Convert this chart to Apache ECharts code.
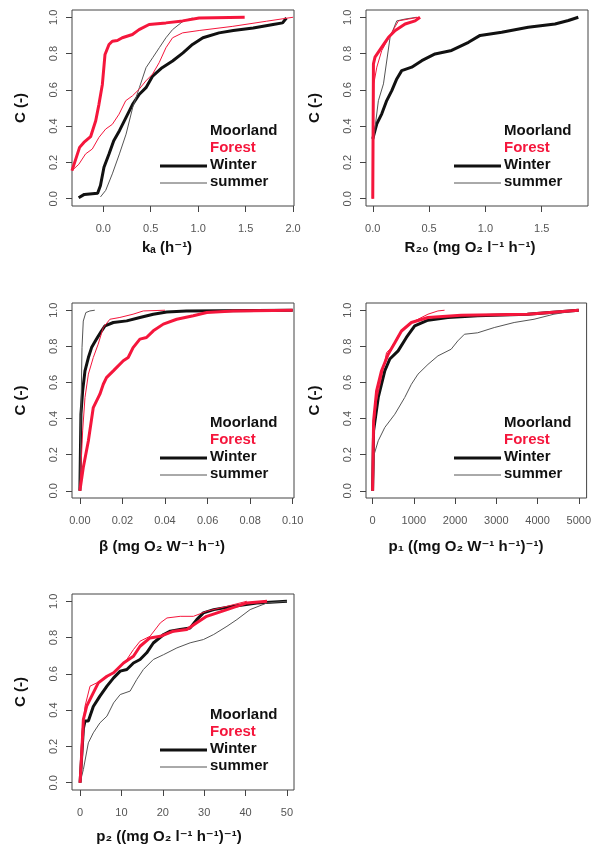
<!DOCTYPE html>
<html>
<head>
<meta charset="utf-8">
<script src="https://cdn.jsdelivr.net/npm/echarts@6/dist/echarts.min.js"></script>
<style>
  html, body { margin: 0; padding: 0; background: #fff; }
  #chart { width: 594px; height: 849px; }
</style>
</head>
<body>
<div id="chart"></div>
<script>
'use strict';

// ---- data: [x, C] pairs of each cumulative curve ----
var yTicks = [0, 0.2, 0.4, 0.6, 0.8, 1.0];

var kaTicks = [0, 0.5, 1.0, 1.5, 2.0];
var kaMoorWinter = [[-0.26, 0.005], [-0.2, 0.024], [-0.06, 0.03], [-0.03, 0.073], [0.007, 0.174], [0.06, 0.247], [0.11, 0.32], [0.17, 0.375], [0.24, 0.448], [0.31, 0.521], [0.38, 0.576], [0.45, 0.612], [0.52, 0.676], [0.62, 0.722], [0.73, 0.759], [0.84, 0.804], [0.94, 0.85], [1.05, 0.887], [1.22, 0.914], [1.37, 0.927], [1.58, 0.941], [1.79, 0.96], [1.89, 0.969], [1.93, 0.996]];
var kaMoorSummer = [[-0.03, 0.01], [0.025, 0.046], [0.095, 0.137], [0.17, 0.247], [0.24, 0.356], [0.31, 0.503], [0.38, 0.612], [0.45, 0.722], [0.52, 0.777], [0.59, 0.832], [0.66, 0.887], [0.73, 0.932], [0.84, 0.978], [0.94, 0.996]];
var kaForWinter = [[-0.33, 0.155], [-0.25, 0.283], [-0.205, 0.31], [-0.134, 0.342], [-0.08, 0.43], [-0.046, 0.52], [-0.01, 0.63], [0.018, 0.795], [0.06, 0.85], [0.095, 0.868], [0.148, 0.872], [0.2, 0.887], [0.307, 0.905], [0.377, 0.932], [0.483, 0.96], [0.66, 0.969], [0.836, 0.98], [1.01, 0.996], [1.49, 1.0]];
var kaForSummer = [[-0.33, 0.155], [-0.258, 0.19], [-0.187, 0.247], [-0.116, 0.274], [-0.046, 0.338], [0.025, 0.384], [0.095, 0.41], [0.166, 0.466], [0.236, 0.54], [0.307, 0.567], [0.377, 0.603], [0.448, 0.649], [0.518, 0.686], [0.589, 0.75], [0.66, 0.832], [0.73, 0.887], [0.836, 0.914], [1.01, 0.927], [1.365, 0.95], [1.718, 0.978], [2.0, 1.0]];

var r20Ticks = [0, 0.5, 1.0, 1.5];
var r20MoorWinter = [[0, 0.33], [0.036, 0.413], [0.08, 0.468], [0.124, 0.541], [0.169, 0.596], [0.213, 0.66], [0.257, 0.706], [0.346, 0.725], [0.435, 0.761], [0.553, 0.798], [0.7, 0.817], [0.85, 0.862], [0.953, 0.9], [1.145, 0.917], [1.38, 0.945], [1.618, 0.963], [1.737, 0.982], [1.825, 1.0]];
var r20MoorSummer = [[0.006, 0.32], [0.05, 0.54], [0.095, 0.633], [0.154, 0.89], [0.213, 0.98], [0.287, 0.99], [0.39, 1.0]];
var r20ForWinter = [[0, 0], [0.006, 0.743], [0.02, 0.78], [0.08, 0.835], [0.14, 0.89], [0.2, 0.927], [0.287, 0.963], [0.376, 0.98], [0.42, 1.0]];
var r20ForSummer = [[0, 0], [0.009, 0.633], [0.036, 0.725], [0.08, 0.817], [0.154, 0.9], [0.228, 0.98], [0.317, 0.99], [0.405, 1.0]];

var betaTicks = [0, 0.02, 0.04, 0.06, 0.08, 0.10];
var betaMoorWinter = [[0, 0], [0.0005, 0.424], [0.0013, 0.553], [0.0024, 0.664], [0.004, 0.738], [0.0055, 0.793], [0.0078, 0.84], [0.0102, 0.886], [0.0118, 0.913], [0.0157, 0.932], [0.022, 0.941], [0.0282, 0.96], [0.0345, 0.978], [0.0408, 0.99], [0.05, 0.996], [0.1, 1.0]];
var betaMoorSummer = [[0, 0], [0.0005, 0.424], [0.001, 0.793], [0.0016, 0.94], [0.0028, 0.987], [0.0047, 0.996], [0.007, 1.0]];
var betaForWinter = [[0, 0], [0.0016, 0.129], [0.004, 0.277], [0.0063, 0.461], [0.0094, 0.535], [0.011, 0.59], [0.0125, 0.627], [0.0157, 0.664], [0.0204, 0.72], [0.0227, 0.738], [0.025, 0.793], [0.0282, 0.84], [0.0313, 0.849], [0.0345, 0.886], [0.0392, 0.923], [0.0455, 0.95], [0.0533, 0.969], [0.0596, 0.987], [0.072, 0.996], [0.1, 1.0]];
var betaForSummer = [[0, 0], [0.0013, 0.332], [0.0024, 0.516], [0.004, 0.646], [0.0063, 0.738], [0.0086, 0.812], [0.011, 0.904], [0.0141, 0.95], [0.0188, 0.96], [0.025, 0.978], [0.0298, 0.996], [0.04, 1.0]];

var p1Ticks = [0, 1000, 2000, 3000, 4000, 5000];
var p1MoorWinter = [[0, 0], [24, 0.332], [137, 0.517], [297, 0.665], [418, 0.73], [619, 0.775], [820, 0.849], [1021, 0.913], [1343, 0.945], [1825, 0.96], [2549, 0.969], [3754, 0.978], [5000, 1.0]];
var p1MoorSummer = [[15, 0], [40, 0.203], [137, 0.277], [297, 0.351], [539, 0.424], [780, 0.517], [941, 0.59], [1101, 0.646], [1343, 0.7], [1584, 0.747], [1905, 0.784], [2066, 0.83], [2227, 0.867], [2549, 0.875], [2950, 0.904], [3433, 0.932], [3915, 0.95], [4398, 0.978], [5000, 1.0]];
var p1ForWinter = [[0, 0], [24, 0.387], [97, 0.553], [217, 0.665], [378, 0.756], [539, 0.82], [700, 0.885], [941, 0.932], [1343, 0.96], [2147, 0.972], [3754, 0.978], [5000, 1.0]];
var p1ForSummer = [[0, 0], [24, 0.35], [97, 0.5], [217, 0.63], [338, 0.765], [458, 0.793], [619, 0.858], [860, 0.922], [1101, 0.95], [1343, 0.978], [1584, 0.996], [1745, 1.0]];

var p2Ticks = [0, 10, 20, 30, 40, 50];
var p2MoorWinter = [[0, 0], [0.8, 0.3], [1.2, 0.34], [2, 0.34], [3.2, 0.42], [4.8, 0.477], [6.5, 0.532], [8.1, 0.578], [9.7, 0.615], [11.3, 0.624], [12.9, 0.66], [14.5, 0.679], [16.1, 0.716], [17.7, 0.77], [20.2, 0.817], [21.8, 0.835], [24.2, 0.844], [26.6, 0.853], [28.2, 0.899], [29.8, 0.936], [32.3, 0.954], [37.1, 0.972], [42.7, 0.991], [50, 1.0]];
var p2MoorSummer = [[0, 0], [0.8, 0.073], [2.0, 0.22], [3.2, 0.275], [4.8, 0.33], [6.5, 0.367], [8.1, 0.44], [9.7, 0.486], [12.1, 0.505], [13.7, 0.569], [15.3, 0.624], [17.7, 0.679], [20.2, 0.706], [23.4, 0.743], [26.6, 0.771], [29.8, 0.789], [32.3, 0.817], [35.5, 0.862], [37.9, 0.899], [41.1, 0.954], [45.2, 0.991], [50, 1.0]];
var p2ForWinter = [[0, 0], [0.4, 0.165], [0.8, 0.349], [1.6, 0.422], [2.8, 0.477], [4.4, 0.55], [6.5, 0.587], [8.1, 0.606], [10.5, 0.66], [12.9, 0.697], [14.5, 0.752], [16.9, 0.798], [19.4, 0.807], [22.6, 0.835], [25.8, 0.844], [28.2, 0.881], [30.6, 0.917], [35.5, 0.954], [40.3, 0.991], [45.2, 1.0]];
var p2ForSummer = [[0, 0], [0.4, 0.257], [1.2, 0.422], [2.4, 0.532], [4.0, 0.55], [5.6, 0.569], [8.1, 0.606], [9.7, 0.642], [11.3, 0.679], [12.9, 0.734], [14.5, 0.78], [16.9, 0.807], [19.4, 0.881], [21, 0.908], [24.2, 0.917], [27.4, 0.917], [30.6, 0.945], [35.5, 0.972], [40.3, 1.0]];

// ---- layout ----
var FONT = '"Liberation Sans", "DejaVu Sans", Arial, sans-serif';
var RED = '#f5163c';
var GW = 222;

var panels = [
    { left: 72, top: 10, h: 196, min: -0.33, max: 2.01, ticks: kaTicks, dec: 1,
      title: 'kₐ (h⁻¹)', tx: 167, ty: 248,
      curves: [kaMoorWinter, kaMoorSummer, kaForWinter, kaForSummer] },
    { left: 366, top: 10, h: 196, min: -0.06, max: 1.911, ticks: r20Ticks, dec: 1,
      title: 'R₂₀ (mg O₂ l⁻¹ h⁻¹)', tx: 470, ty: 248,
      curves: [r20MoorWinter, r20MoorSummer, r20ForWinter, r20ForSummer] },
    { left: 72, top: 303, h: 195, min: -0.0037, max: 0.1006, ticks: betaTicks, dec: 2,
      title: 'β (mg O₂ W⁻¹ h⁻¹)', tx: 162, ty: 547,
      curves: [betaMoorWinter, betaMoorSummer, betaForWinter, betaForSummer] },
    { left: 366, top: 303, h: 195, min: -160, max: 5190, ticks: p1Ticks, dec: 0,
      title: 'p₁ ((mg O₂ W⁻¹ h⁻¹)⁻¹)', tx: 466, ty: 547,
      curves: [p1MoorWinter, p1MoorSummer, p1ForWinter, p1ForSummer] },
    { left: 72, top: 594, h: 196, min: -1.95, max: 51.7, ticks: p2Ticks, dec: 0,
      title: 'p₂ ((mg O₂ l⁻¹ h⁻¹)⁻¹)', tx: 169, ty: 837,
      curves: [p2MoorWinter, p2MoorSummer, p2ForWinter, p2ForSummer] }
];

var curveStyles = [
    { color: '#111', width: 3 },
    { color: '#555', width: 1 },
    { color: RED, width: 3 },
    { color: RED, width: 1 }
];

var grids = [], xAxes = [], yAxes = [], series = [], graphics = [];

panels.forEach(function (p, i) {
    grids.push({
        left: p.left, top: p.top, width: GW, height: p.h,
        show: true, borderColor: '#444', borderWidth: 1,
        backgroundColor: 'transparent'
    });
    xAxes.push({
        gridIndex: i, type: 'value', min: p.min, max: p.max, position: 'bottom',
        splitLine: { show: false },
        axisLine: { show: false, onZero: false },
        axisTick: { show: true, inside: false, length: 6, lineStyle: { color: '#444' }, customValues: p.ticks },
        axisLabel: {
            customValues: p.ticks, color: '#555', fontSize: 11, margin: 17, fontFamily: FONT,
            formatter: (function (dec) { return function (v) { return v.toFixed(dec); }; })(p.dec)
        }
    });
    yAxes.push({
        gridIndex: i, type: 'value', min: -0.04, max: 1.04, position: 'left',
        splitLine: { show: false },
        axisLine: { show: false, onZero: false },
        axisTick: { show: true, inside: false, length: 6, lineStyle: { color: '#444' }, customValues: yTicks },
        axisLabel: {
            customValues: yTicks, color: '#555', fontSize: 11, margin: 13, rotate: 90, fontFamily: FONT,
            formatter: function (v) { return v.toFixed(1); }
        },
        name: 'C (-)', nameLocation: 'middle', nameGap: 44, nameRotate: 90,
        nameTextStyle: { color: '#111', fontSize: 15, fontWeight: 'bold', fontFamily: FONT }
    });
    p.curves.forEach(function (c, k) {
        series.push({
            type: 'line', xAxisIndex: i, yAxisIndex: i, data: c,
            showSymbol: false, symbol: 'none', silent: true, animation: false,
            lineStyle: { color: curveStyles[k].color, width: curveStyles[k].width }
        });
    });

    // x axis title
    graphics.push({
        type: 'text', x: p.tx, y: p.ty,
        style: { text: p.title, fill: '#111', font: 'bold 15px ' + FONT, align: 'center', verticalAlign: 'middle' }
    });

    // legend (bottom right, no box)
    var r = p.left + GW, b = p.top + p.h;
    var tx = r - 84;
    var rows = [
        { text: 'Moorland', fill: '#111', dy: -75 },
        { text: 'Forest', fill: RED, dy: -58 },
        { text: 'Winter', fill: '#111', dy: -41 },
        { text: 'summer', fill: '#111', dy: -24 }
    ];
    rows.forEach(function (row) {
        graphics.push({
            type: 'text', x: tx, y: b + row.dy,
            style: { text: row.text, fill: row.fill, font: 'bold 15px ' + FONT, align: 'left', verticalAlign: 'middle' }
        });
    });
    graphics.push({
        type: 'line', shape: { x1: r - 134, y1: b - 40, x2: r - 87, y2: b - 40 },
        style: { stroke: '#111', lineWidth: 3 }
    });
    graphics.push({
        type: 'line', shape: { x1: r - 134, y1: b - 23, x2: r - 87, y2: b - 23 },
        style: { stroke: '#555', lineWidth: 1 }
    });
});

var chart = echarts.init(document.getElementById('chart'));
chart.setOption({
    animation: false,
    backgroundColor: '#fff',
    grid: grids,
    xAxis: xAxes,
    yAxis: yAxes,
    series: series,
    graphic: graphics
});
</script>
</body>
</html>
